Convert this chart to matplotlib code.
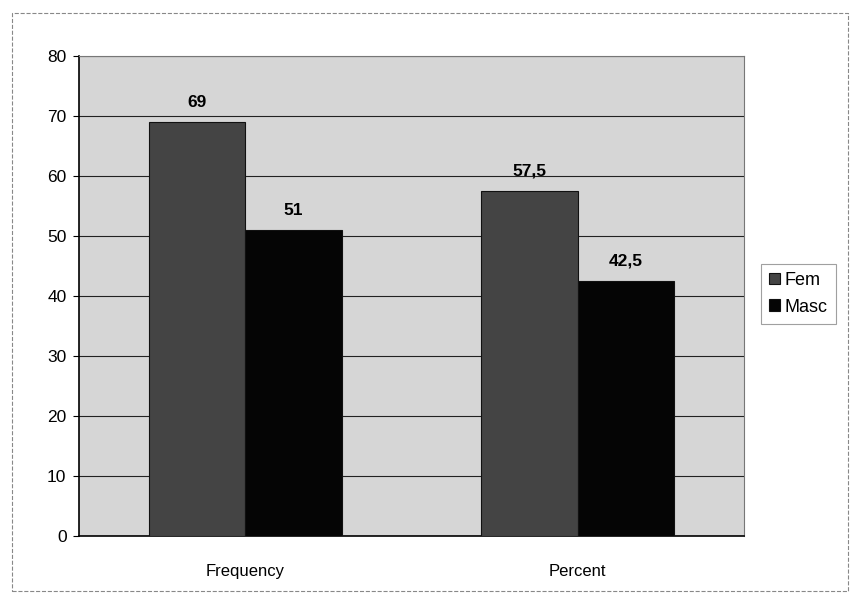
import numpy as np
import matplotlib
matplotlib.use("Agg")
import matplotlib.pyplot as plt
from matplotlib.patches import Rectangle

plt.rcParams["font.family"] = ["Liberation Sans", "DejaVu Sans"]

categories = ["Frequency", "Percent"]
series_names = ["Fem", "Masc"]
fem_values = [69, 57.5]
masc_values = [51, 42.5]
value_labels = [["69", "57,5"], ["51", "42,5"]]
y_ticks = [0, 10, 20, 30, 40, 50, 60, 70, 80]

colors = ["#444444", "#050505"]

fig = plt.figure(figsize=(8.51, 6.01), dpi=100)
ax = fig.add_axes([79 / 851, 65 / 601, 665 / 851, 480 / 601])
ax.set_facecolor("#d6d6d6")

x = np.arange(len(categories))
width = 0.29
series = [fem_values, masc_values]
for i, (name, vals) in enumerate(zip(series_names, series)):
    offset = (i - 0.5) * width
    bars = ax.bar(x + offset, vals, width, color=colors[i], edgecolor="#111111",
                  linewidth=0.8, label=name, zorder=3)
    for bar, lab in zip(bars, value_labels[i]):
        ax.text(bar.get_x() + bar.get_width() / 2, bar.get_height() + 2.0, lab,
                ha="center", va="bottom", fontsize=12.5, fontweight="bold", zorder=4)

ax.set_xlim(-0.5, 1.5)
ax.set_ylim(0, 80)
ax.set_yticks(y_ticks)
ax.set_yticklabels([str(t) for t in y_ticks], fontsize=12.5)
ax.set_xticks(x)
ax.set_xticklabels(categories, fontsize=12)
ax.tick_params(axis="x", length=0, pad=20)
ax.tick_params(axis="y", length=4, width=0.8, pad=5)
ax.grid(axis="y", color="#222222", linewidth=0.8, zorder=1)
for side in ["top", "right"]:
    ax.spines[side].set_color("#777777")
    ax.spines[side].set_linewidth(0.8)
ax.spines["left"].set_linewidth(1.2)
ax.spines["bottom"].set_linewidth(1.2)

leg = ax.legend(loc="center left", bbox_to_anchor=(1.012, 0.505), fontsize=13,
                frameon=True, fancybox=False, edgecolor="#888888",
                handlelength=0.6, handleheight=0.6, handletextpad=0.25,
                borderpad=0.45, labelspacing=0.55)
leg.get_frame().set_linewidth(0.8)

fig.patches.append(Rectangle((12 / 851, 10 / 601), 836 / 851, 578 / 601,
                             transform=fig.transFigure, fill=False,
                             edgecolor="#888888", linewidth=0.8, linestyle="--"))

fig.savefig("out.png", dpi=100)
